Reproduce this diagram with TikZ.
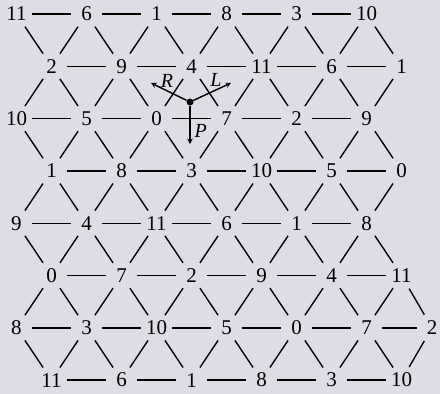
\documentclass[tikz,border=0pt]{standalone}
\usepackage{fontspec}
\setmainfont{Liberation Serif}
\usepackage{xcolor}
\usepackage{tikz}
\usetikzlibrary{arrows}

\definecolor{paper}{RGB}{222,221,230}

\begin{document}
\begin{tikzpicture}[
        x=1pt, y=-1pt,
        pc/.style={circle, inner sep=0pt, minimum size=30pt, font=\fontsize{21}{21}\selectfont},
        edge/.style={line width=1.4pt},
        move/.style={->, line width=1.4pt},
        dot/.style={circle, fill, inner sep=0pt, minimum size=7pt},
        lbl/.style={inner sep=1pt, font=\fontsize{20}{20}\selectfont\itshape},
        >=stealth
    ]

    \useasboundingbox[fill=paper] (0,0) rectangle (440,394);

    % pitch classes: +7 to the right, +3 down-right, +8 down-left
    \foreach \r in {0,...,7} {
        \pgfmathtruncatemacro\last{\r==6 ? 6 : 5}
        \foreach \i in {0,...,\last} {
            \pgfmathtruncatemacro\pcnum{mod(11 - floor(\r/2) + 3*mod(\r,2) + 7*\i + 24, 12)}
            \pgfmathsetmacro\xx{(\r==6 && \i==6) ? 432 : 16.5 + 35*mod(\r,2) + 70*\i}
            \pgfmathsetmacro\yy{14 + 52.3*\r}
            \node[pc] (n-\r-\i) at (\xx,\yy) {\pcnum};
        }
    }

    % horizontal edges
    \foreach \r in {0,...,7} {
        \pgfmathtruncatemacro\last{\r==6 ? 5 : 4}
        \foreach \i [evaluate=\i as \j using int(\i+1)] in {0,...,\last}
            \draw[edge] (n-\r-\i) -- (n-\r-\j);
    }

    % even rows down to odd rows
    \foreach \r in {0,2,4,6} {
        \pgfmathtruncatemacro\s{\r+1}
        \pgfmathtruncatemacro\last{\r==6 ? 6 : 5}
        \foreach \i in {0,...,5}
            \draw[edge] (n-\r-\i) -- (n-\s-\i);
        \foreach \i [evaluate=\i as \k using int(\i-1)] in {1,...,\last}
            \draw[edge] (n-\r-\i) -- (n-\s-\k);
    }

    % odd rows down to even rows
    \foreach \r in {1,3,5} {
        \pgfmathtruncatemacro\s{\r+1}
        \pgfmathtruncatemacro\last{\r==5 ? 5 : 4}
        \foreach \i in {0,...,5}
            \draw[edge] (n-\r-\i) -- (n-\s-\i);
        \foreach \i [evaluate=\i as \k using int(\i+1)] in {0,...,\last}
            \draw[edge] (n-\r-\i) -- (n-\s-\k);
    }

    % R, L, P moves from the triangle 0-4-7
    \node[dot] (ctr) at (190,102) {};
    \coordinate (rEnd) at (151,83);
    \coordinate (lEnd) at (231,83);
    \coordinate (pEnd) at (190,144);

    \draw[move] (ctr) -- node[lbl, pos=0.55, above=2pt] {R} (rEnd);
    \draw[move] (ctr) -- node[lbl, pos=0.6, above=2pt] {L} (lEnd);
    \draw[move] (ctr) -- node[lbl, pos=0.65, right=3pt] {P} (pEnd);

\end{tikzpicture}
\end{document}
